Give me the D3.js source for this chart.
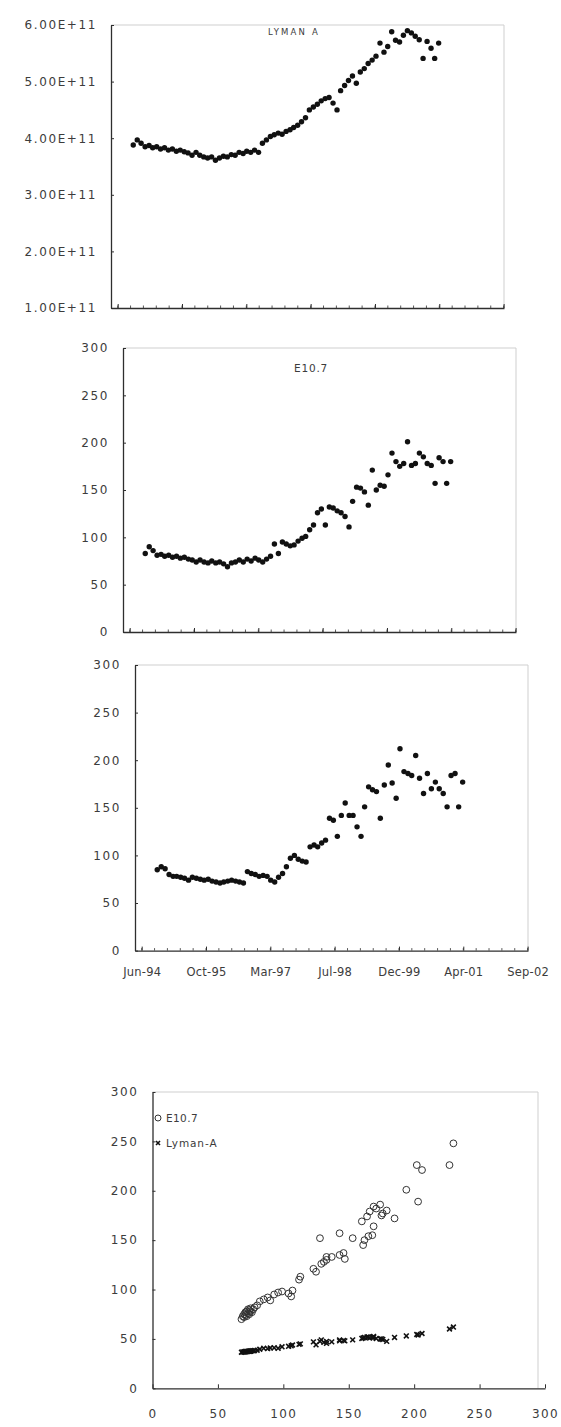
<!DOCTYPE html>
<html>
<head>
<meta charset="utf-8">
<script src="https://cdn.jsdelivr.net/npm/d3@7"></script>
<style>
  body { margin: 0; background: #fff; }
  svg text { font-family: "DejaVu Sans", sans-serif; fill: #3c3c3c; }
</style>
</head>
<body>
<svg id="chart" width="561" height="1427"></svg>
<script>
// ---- monthly means, Oct 1994 .. Apr 2001 ----
const months = [
  "1994-10","1994-11","1994-12",
  "1995-01","1995-02","1995-03","1995-04","1995-05","1995-06","1995-07","1995-08","1995-09","1995-10","1995-11","1995-12",
  "1996-01","1996-02","1996-03","1996-04","1996-05","1996-06","1996-07","1996-08","1996-09","1996-10","1996-11","1996-12",
  "1997-01","1997-02","1997-03","1997-04","1997-05","1997-06","1997-07","1997-08","1997-09","1997-10","1997-11","1997-12",
  "1998-01","1998-02","1998-03","1998-04","1998-05","1998-06","1998-07","1998-08","1998-09","1998-10","1998-11","1998-12",
  "1999-01","1999-02","1999-03","1999-04","1999-05","1999-06","1999-07","1999-08","1999-09","1999-10","1999-11","1999-12",
  "2000-01","2000-02","2000-03","2000-04","2000-05","2000-06","2000-07","2000-08","2000-09","2000-10","2000-11","2000-12",
  "2001-01","2001-02","2001-03","2001-04"
];

// Lyman-alpha flux
const lymanA = [
  3.88e11, 3.97e11, 3.91e11, 3.85e11, 3.87e11, 3.83e11, 3.85e11, 3.81e11, 3.83e11, 3.79e11,
  3.81e11, 3.77e11, 3.79e11, 3.76e11, 3.74e11, 3.70e11, 3.75e11, 3.70e11, 3.67e11, 3.65e11,
  3.67e11, 3.61e11, 3.65e11, 3.68e11, 3.67e11, 3.71e11, 3.70e11, 3.75e11, 3.73e11, 3.77e11,
  3.75e11, 3.79e11, 3.75e11, 3.91e11, 3.97e11, 4.03e11, 4.06e11, 4.09e11, 4.07e11, 4.12e11,
  4.15e11, 4.19e11, 4.23e11, 4.29e11, 4.36e11, 4.50e11, 4.55e11, 4.60e11, 4.66e11, 4.70e11,
  4.72e11, 4.62e11, 4.50e11, 4.84e11, 4.93e11, 5.02e11, 5.10e11, 4.97e11, 5.17e11, 5.23e11,
  5.32e11, 5.38e11, 5.45e11, 5.68e11, 5.52e11, 5.62e11, 5.88e11, 5.73e11, 5.70e11, 5.82e11,
  5.90e11, 5.86e11, 5.80e11, 5.74e11, 5.41e11, 5.71e11, 5.59e11, 5.41e11, 5.68e11
];

// E10.7 index
const e107 = [
  83, 90, 86, 81, 82, 80, 81, 79, 80, 78,
  79, 77, 76, 74, 76, 74, 73, 75, 73, 74,
  72, 69, 73, 74, 76, 74, 77, 75, 78, 76,
  74, 77, 80, 93, 83, 95, 93, 91, 92, 96,
  99, 101, 108, 113, 126, 130, 113, 132, 131, 128,
  126, 122, 111, 138, 153, 152, 148, 134, 171, 150,
  155, 154, 166, 189, 180, 175, 178, 201, 176, 178,
  189, 185, 178, 176, 157, 184, 180, 157, 180
];

// F10.7 index
const f107 = [
  85, 88, 86, 80, 78, 78, 77, 76, 74, 77,
  76, 75, 74, 75, 73, 72, 71, 72, 73, 74,
  73, 72, 71, 83, 81, 80, 78, 79, 78, 74,
  72, 77, 81, 88, 97, 100, 96, 94, 93, 109,
  111, 109, 113, 116, 139, 137, 120, 142, 155, 142,
  142, 130, 120, 151, 172, 169, 167, 139, 174, 195,
  176, 160, 212, 188, 186, 184, 205, 181, 165, 186,
  170, 177, 170, 165, 151, 184, 186, 151, 177
];

// time axis labels
const timeTickDates  = ["1994-06-16","1995-10-29","1997-03-12","1998-07-25","1999-12-07","2001-04-20","2002-09-02"];
const timeTickLabels = ["Jun-94","Oct-95","Mar-97","Jul-98","Dec-99","Apr-01","Sep-02"];
const timeDomain = ["1994-04-25","2002-09-05"];

const lymanTicks = [1e11, 2e11, 3e11, 4e11, 5e11, 6e11];
const indexTicks = [0, 50, 100, 150, 200, 250, 300];

// ---- scatter: proxy values against F10.7 ----
const scatterF107 = [
  68, 69, 70, 70, 71, 71, 72, 72, 73, 73, 74, 74, 75, 75, 76, 77, 78,
  80, 82, 85, 88, 90, 93, 96, 99, 104, 106, 107, 112, 113, 123, 125,
  129, 131, 133, 133, 137, 143, 146, 147, 128, 143, 153,
  161, 162, 165, 168, 169, 160, 164, 166, 169, 171, 174, 176, 179, 175, 185,
  194, 202, 206, 203, 227, 230
];
const scatterE107 = [
  70, 73, 72, 75, 74, 77, 73, 78, 76, 80, 75, 79, 78, 81, 77, 80, 82,
  84, 88, 90, 92, 89, 95, 97, 98, 96, 93, 99, 110, 113, 121, 118,
  126, 128, 130, 133, 133, 135, 137, 131, 152, 157, 152,
  145, 150, 154, 155, 164, 169, 174, 179, 184, 182, 186, 177, 180, 175, 172,
  201, 226, 221, 189, 226, 248
];
const scatterLyman = [
  36.5, 36.8, 37.0, 36.6, 37.2, 37.0, 37.4, 37.1, 37.5, 37.3, 37.6, 37.4, 37.8, 37.6, 38.0, 37.9, 38.2,
  38.5, 39.5, 40.5, 40.2, 40.8, 41.0, 40.5, 42.0, 42.5, 43.0, 43.8, 44.5, 45.0, 47.0, 44.0,
  49.0, 46.5, 45.5, 47.5, 47.0, 48.0, 48.5, 48.0, 47.5, 49.0, 49.0,
  51.0, 51.5, 52.0, 51.5, 52.5, 50.5, 52.0, 51.0, 51.5, 50.5, 50.0, 49.5, 47.5, 50.0, 51.5,
  53.0, 54.5, 55.5, 54.0, 60.0, 62.0
];
const scatterTicks = [0, 50, 100, 150, 200, 250, 300];
const legendLabels = ["E10.7", "Lyman-A"];

// ---- drawing ----
const svg = d3.select("#chart");
const parseDay = d3.timeParse("%Y-%m-%d");
const parseMonth = d3.timeParse("%Y-%m");
const monthDates = months.map(m => d3.timeDay.offset(parseMonth(m), 14));
const axisColor = "#2e2e2e";
const frameColor = "#cfcfcf";

function frame(g, x0, x1, y0, y1) {
  g.append("line").attr("x1", x0).attr("x2", x1).attr("y1", y0).attr("y2", y0)
    .attr("stroke", frameColor).attr("stroke-width", 1);
  g.append("line").attr("x1", x1).attr("x2", x1).attr("y1", y0).attr("y2", y1)
    .attr("stroke", frameColor).attr("stroke-width", 1);
}

function styleAxis(g) {
  g.select(".domain").attr("stroke", axisColor).attr("stroke-width", 1.3);
  g.selectAll(".tick line").attr("stroke", axisColor).attr("stroke-width", 1);
  g.selectAll(".tick text").attr("fill", "#3c3c3c");
}

function timePanel(opts) {
  const { left, top, bottom, values, yDomain, yTicks, yFormat, title, titleX, titleY, titleSize, titleSpacing, showDates } = opts;
  const width = 393;
  const x = d3.scaleTime().domain(timeDomain.map(parseDay)).range([left, left + width]);
  const y = d3.scaleLinear().domain(yDomain).range([bottom, top]);
  const g = svg.append("g");

  frame(g, left, left + width, top, bottom);

  // minor ticks every 100 days along the time axis
  const t0 = parseDay(timeTickDates[0]);
  const minor = d3.range(-1, 31).map(k => d3.timeDay.offset(t0, 100 * k))
    .filter(d => d >= x.domain()[0] && d <= x.domain()[1]);
  g.append("g").selectAll("line").data(minor).join("line")
    .attr("x1", d => x(d)).attr("x2", d => x(d))
    .attr("y1", bottom).attr("y2", bottom - 2.5)
    .attr("stroke", axisColor).attr("stroke-width", 0.8);

  const xAxis = d3.axisBottom(x)
    .tickValues(timeTickDates.map(parseDay))
    .tickSizeInner(-4).tickSizeOuter(0)
    .tickPadding(17)
    .tickFormat((d, i) => showDates ? timeTickLabels[i] : "");
  const gx = g.append("g").attr("transform", `translate(0,${bottom})`).call(xAxis);
  styleAxis(gx);
  gx.selectAll(".tick text").attr("font-size", 11.5).attr("letter-spacing", 0.2);

  const yAxis = d3.axisLeft(y).tickValues(yTicks).tickSizeInner(-3).tickSizeOuter(0)
    .tickPadding(14).tickFormat(yFormat);
  const gy = g.append("g").attr("transform", `translate(${left},0)`).call(yAxis);
  styleAxis(gy);
  gy.selectAll(".tick text").attr("font-size", 12).attr("letter-spacing", 1.6);

  g.append("text").attr("x", titleX).attr("y", titleY)
    .attr("text-anchor", "middle").attr("font-size", titleSize)
    .attr("letter-spacing", titleSpacing).text(title);

  g.append("g").selectAll("circle").data(values).join("circle")
    .attr("cx", (d, i) => x(monthDates[i]))
    .attr("cy", d => y(d))
    .attr("r", 2.7)
    .attr("fill", "#111");
}

timePanel({
  left: 111, top: 25, bottom: 308, values: lymanA,
  yDomain: [1e11, 6e11], yTicks: lymanTicks,
  yFormat: d => (d / 1e11).toFixed(2) + "E+11",
  title: "LYMAN A", titleX: 294, titleY: 35, titleSize: 8.5, titleSpacing: 2.2, showDates: false
});
timePanel({
  left: 123, top: 348, bottom: 632, values: e107,
  yDomain: [0, 300], yTicks: indexTicks, yFormat: d3.format("d"),
  title: "E10.7", titleX: 311, titleY: 372, titleSize: 10.5, titleSpacing: 0.8, showDates: false
});
timePanel({
  left: 135, top: 665, bottom: 950.6, values: f107,
  yDomain: [0, 300], yTicks: indexTicks, yFormat: d3.format("d"),
  title: "", titleX: 0, titleY: 0, titleSize: 10, titleSpacing: 0, showDates: true
});

// ---- scatter panel ----
(function () {
  const left = 152.5, right = 545, top = 1092, bottom = 1388.3;
  const x = d3.scaleLinear().domain([0, 300]).range([left, right]);
  const y = d3.scaleLinear().domain([0, 300]).range([bottom, top]);
  const g = svg.append("g");
  frame(g, left, right - 7, top, bottom);

  const gx = g.append("g").attr("transform", `translate(0,${bottom})`)
    .call(d3.axisBottom(x).tickValues(scatterTicks).tickSizeInner(-4).tickSizeOuter(0).tickPadding(21));
  styleAxis(gx);
  gx.selectAll(".tick text").attr("font-size", 12).attr("letter-spacing", 1.4);

  const gy = g.append("g").attr("transform", `translate(${left},0)`)
    .call(d3.axisLeft(y).tickValues(scatterTicks).tickSizeInner(-3).tickSizeOuter(0).tickPadding(14));
  styleAxis(gy);
  gy.selectAll(".tick text").attr("font-size", 12).attr("letter-spacing", 1.6);

  // E10.7: open circles
  g.append("g").selectAll("circle").data(scatterE107).join("circle")
    .attr("cx", (d, i) => x(scatterF107[i]))
    .attr("cy", d => y(d))
    .attr("r", 3.4)
    .attr("fill", "none").attr("stroke", "#333").attr("stroke-width", 1);

  // Lyman-A: crosses
  const cross = (sel, cx, cy, s) => sel.append("path")
    .attr("d", `M${cx - s},${cy - s}L${cx + s},${cy + s}M${cx - s},${cy + s}L${cx + s},${cy - s}`)
    .attr("stroke", "#111").attr("stroke-width", 1.6);
  const gl = g.append("g");
  scatterLyman.forEach((v, i) => cross(gl, x(scatterF107[i]), y(v), 2.4));

  // legend
  const lg = g.append("g");
  lg.append("circle").attr("cx", 158).attr("cy", 1118).attr("r", 3)
    .attr("fill", "none").attr("stroke", "#333").attr("stroke-width", 1);
  lg.append("text").attr("x", 166).attr("y", 1122).attr("font-size", 10.5)
    .attr("letter-spacing", 0.4).text(legendLabels[0]);
  cross(lg, 158, 1143, 2);
  lg.append("text").attr("x", 166).attr("y", 1147).attr("font-size", 10.5)
    .attr("letter-spacing", 0.9).text(legendLabels[1]);
})();
</script>
</body>
</html>
